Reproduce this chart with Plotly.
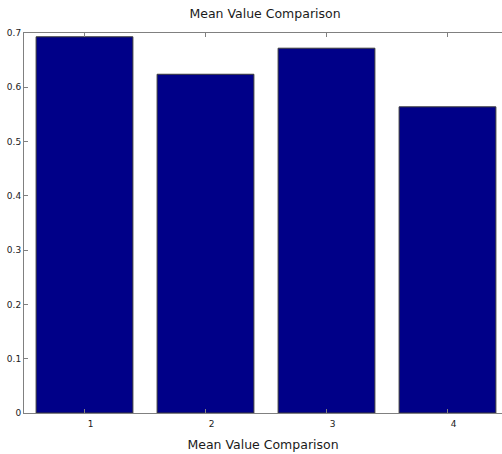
import plotly.graph_objects as go

categories = [1, 2, 3, 4]
mean_values = [0.693, 0.624, 0.672, 0.564]
y_ticks = [0, 0.1, 0.2, 0.3, 0.4, 0.5, 0.6, 0.7]
y_tick_labels = ["0", "0.1", "0.2", "0.3", "0.4", "0.5", "0.6", "0.7"]
title_text = "Mean Value Comparison"
x_title_text = "Mean Value Comparison"

fig = go.Figure()
fig.add_trace(go.Bar(
    x=categories, y=mean_values, width=0.8,
    marker=dict(color="#000088", line=dict(color="#3a3a3a", width=1)),
))

font_family = "DejaVu Sans, Verdana, sans-serif"
fig.update_layout(
    width=502, height=454,
    margin=dict(l=24, r=0, t=33, b=41, autoexpand=False),
    plot_bgcolor="white", paper_bgcolor="white",
    showlegend=False,
    title=dict(text=title_text, x=265 / 502, xanchor="center", y=1 - 14 / 454, yanchor="middle",
               font=dict(family=font_family, size=12.5, color="#1a1a1a"), automargin=False),
    font=dict(family=font_family, size=9, color="#1a1a1a"),
    bargap=0.2,
)
fig.update_xaxes(
    range=[0.5, 0.5 + 478 / 121],
    tickmode="array", tickvals=categories, ticktext=[str(c) for c in categories],
    ticks="inside", ticklen=4, tickcolor="#808080",
    showline=True, linecolor="#808080", linewidth=1, mirror="ticks",
    showgrid=False, zeroline=False, automargin=False,
    ticklabelshift=6, ticklabelstandoff=2,
    title=dict(text=x_title_text, font=dict(family=font_family, size=12.5, color="#1a1a1a"), standoff=12),
    tickfont=dict(size=9),
)
fig.update_yaxes(
    range=[0, 0.7],
    tickmode="array", tickvals=y_ticks, ticktext=y_tick_labels,
    ticks="inside", ticklen=4, tickcolor="#808080",
    showline=True, linecolor="#808080", linewidth=1, mirror=False,
    showgrid=False, zeroline=False, automargin=False,
    tickfont=dict(size=9),
)
fig.write_html("out.html", config={"displayModeBar": False},
               post_script="document.body.style.margin='0';document.body.style.overflow='hidden';")
